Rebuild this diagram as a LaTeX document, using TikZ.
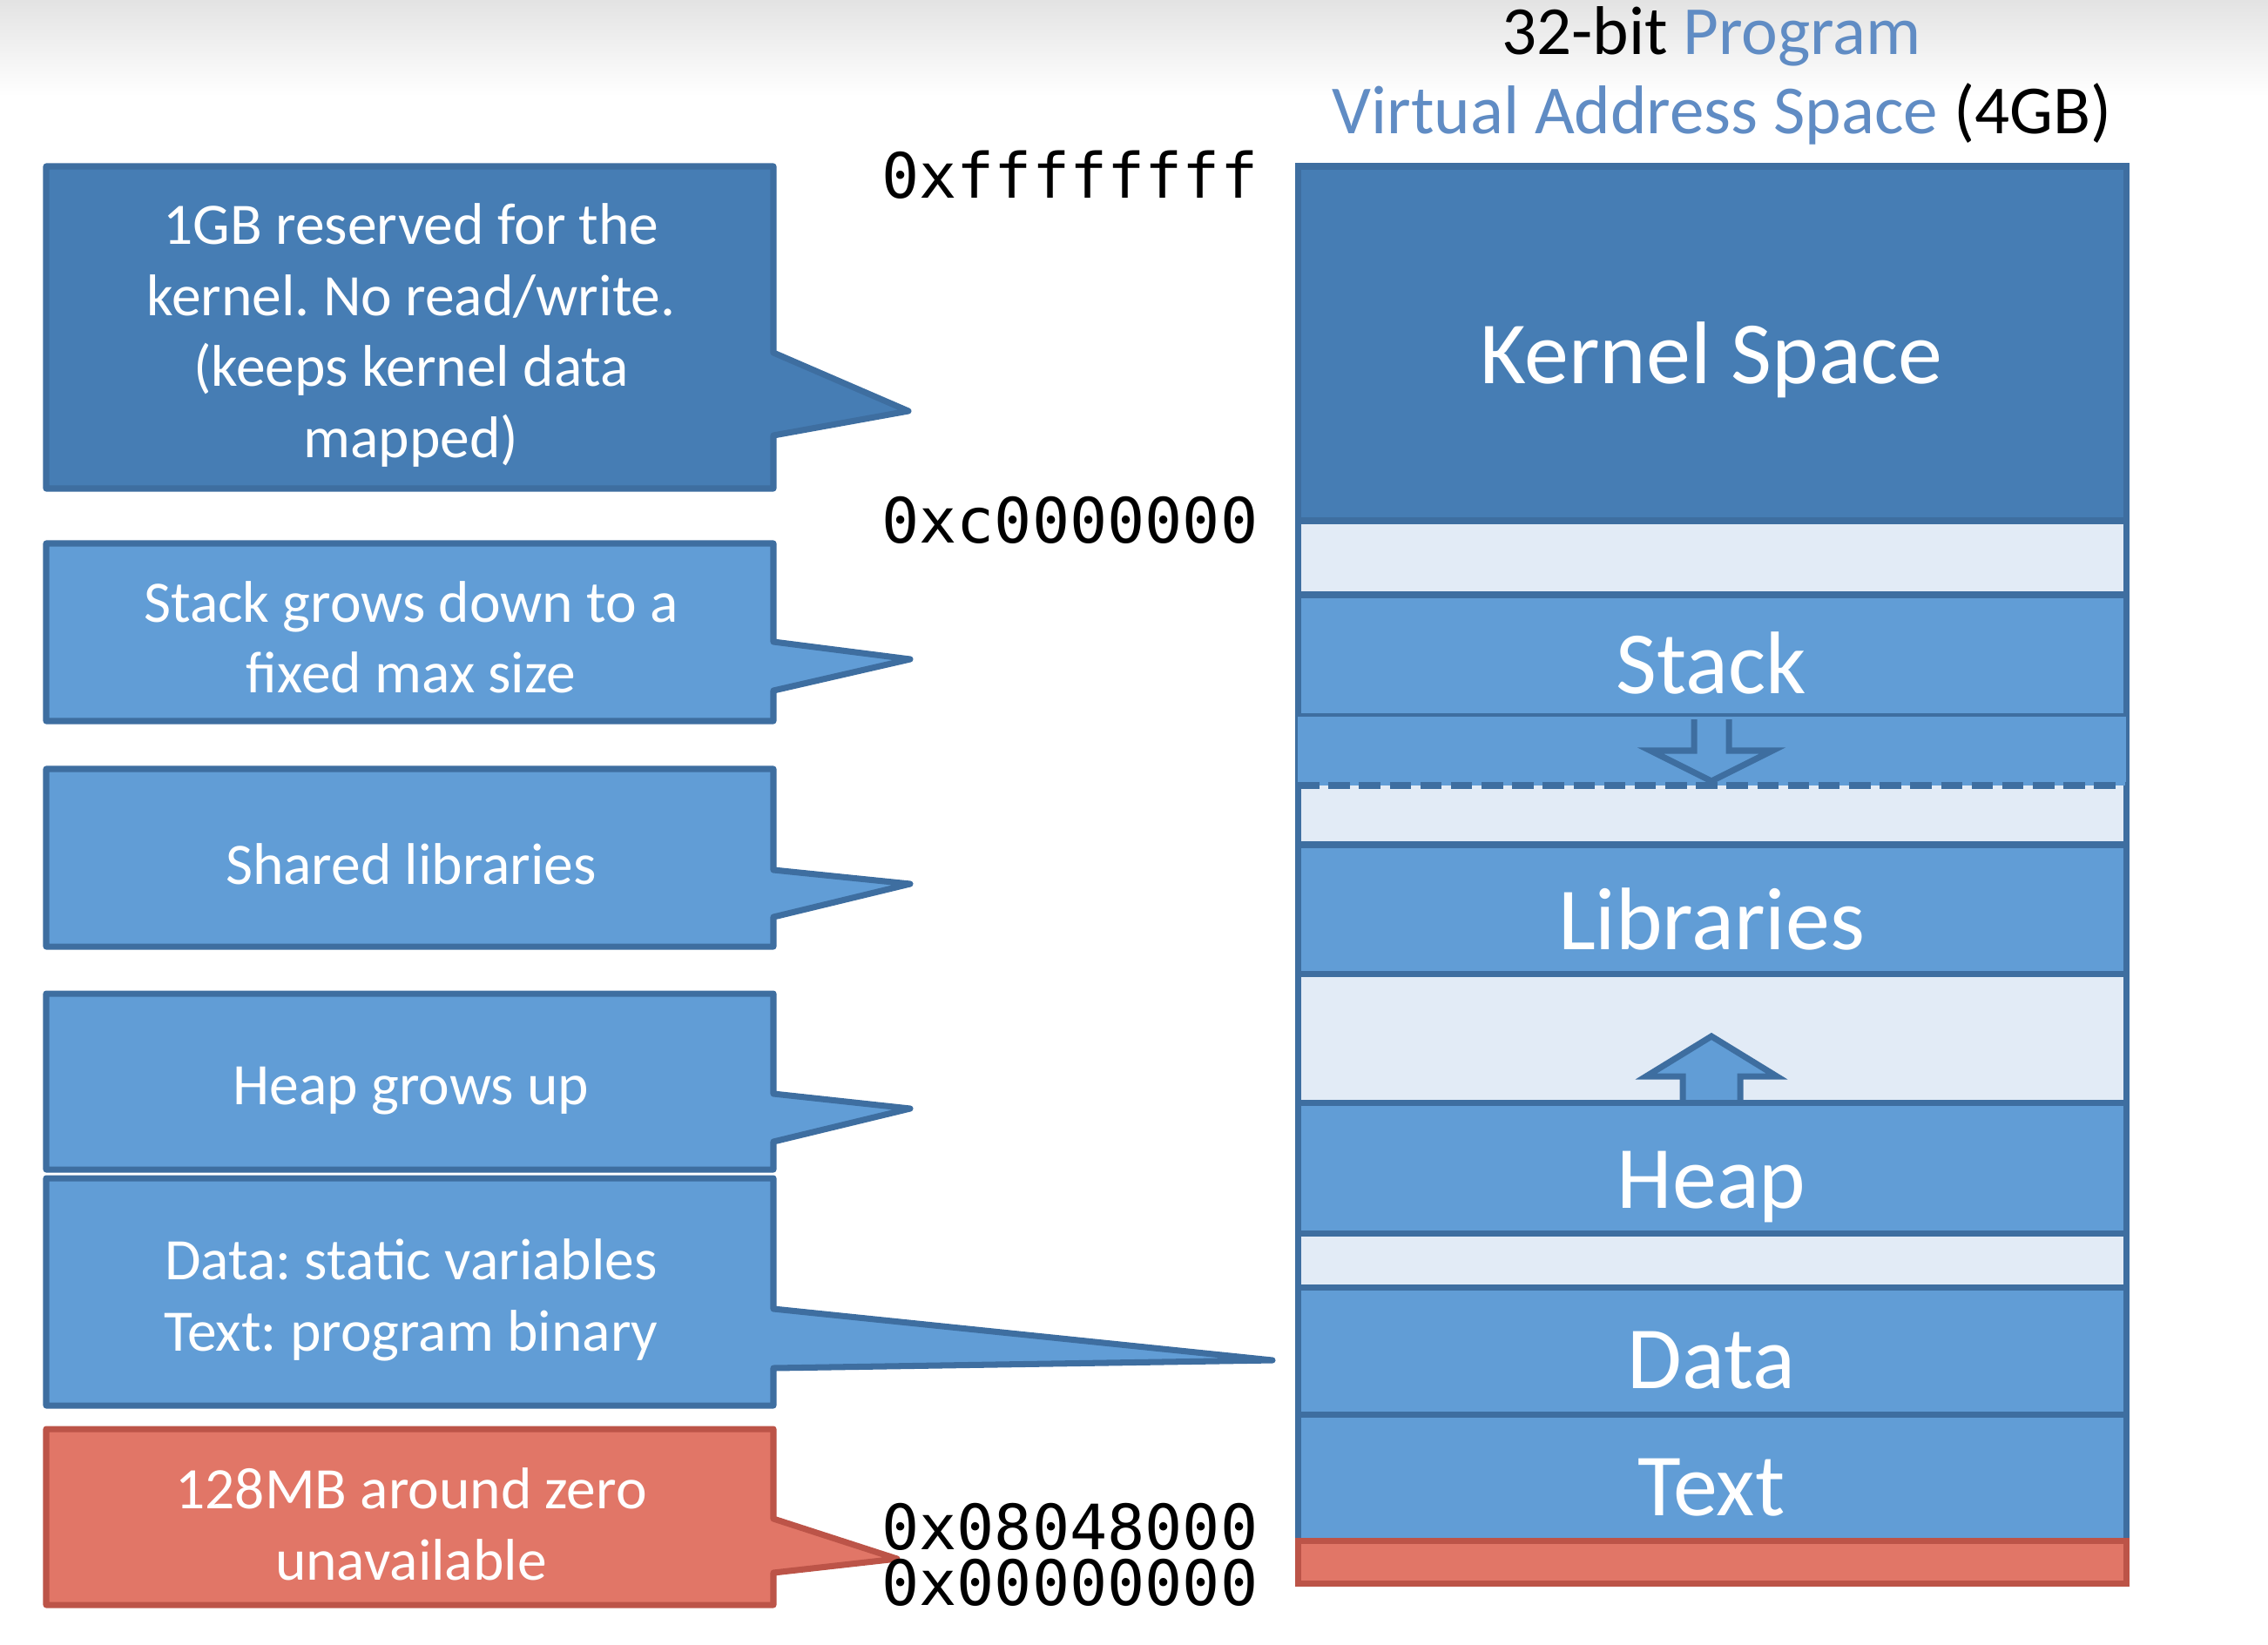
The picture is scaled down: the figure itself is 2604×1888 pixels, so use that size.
\documentclass[tikz,border=0pt]{standalone}
\usepackage{fontspec}
\setmainfont{Carlito}
\newfontfamily\monof{DejaVu Sans Mono}
\frenchspacing
\definecolor{kblue}{RGB}{70,125,180}
\definecolor{mblue}{RGB}{97,157,214}
\definecolor{bblue}{RGB}{62,110,160}
\definecolor{lblue}{RGB}{226,235,246}
\definecolor{rfill}{RGB}{225,118,103}
\definecolor{rline}{RGB}{188,84,72}
\definecolor{tblue}{RGB}{96,140,196}
\tikzset{
  blk/.style={fill=mblue,draw=bblue,line width=2pt},
  kblk/.style={fill=kblue,draw=bblue,line width=2pt},
  rblk/.style={fill=rfill,draw=rline,line width=2pt},
  gap/.style={fill=lblue},
  seglabel/.style={text=white,font=\fontsize{29}{34}\selectfont,anchor=base,inner sep=0pt},
  calltext/.style={text=white,font=\fontsize{19.2}{23.2}\selectfont,align=center,inner sep=0pt},
  addr/.style={font=\monof\fontsize{20.4}{24}\selectfont,anchor=base east,inner sep=0pt},
  ttl/.style={font=\fontsize{22.5}{27}\selectfont,inner sep=0pt},
  callbox/.style={fill=mblue,draw=bblue,line width=2pt,line join=round},
}
\begin{document}
\begin{tikzpicture}[x=0.01cm,y=-0.01cm]
\useasboundingbox (0,0) rectangle (2604,1888);
\fill[white] (0,0) rectangle (2604,1888);
\shade[top color=black!11,bottom color=white] (0,0) rectangle (2604,110);

% ---- memory column ----
\draw[gap,draw=bblue,line width=2pt] (1490,191) rectangle (2441,1818);
\draw[kblk] (1490,191) rectangle (2441,598);
\draw[blk] (1490,683) rectangle (2441,823);
\fill[mblue] (1490,823) rectangle (2441,902);
\draw[bblue,line width=2pt,dashed,dash pattern=on 7pt off 3pt] (1490,902) -- (2441,902);
% hollow down arrow
\draw[fill=mblue,draw=bblue,line width=2pt,line join=miter]
  (1945,826) -- (1945,862) -- (1895,862) -- (1965,897) -- (2035,862) -- (1985,862) -- (1985,826);
\draw[blk] (1490,970) rectangle (2441,1118);
% up arrow
\draw[fill=mblue,draw=bblue,line width=2pt,line join=miter]
  (1932,1268) -- (1932,1236) -- (1890,1236) -- (1965,1190) -- (2040,1236) -- (1998,1236) -- (1998,1268);
\draw[blk] (1490,1266) rectangle (2441,1416);
\draw[blk] (1490,1478) rectangle (2441,1624);
\draw[blk] (1490,1624) rectangle (2441,1769);
\draw[rblk] (1490,1769) rectangle (2441,1818);

\node[seglabel] (kern) at (1965,440) {Kernel Space};
\node[seglabel] (stack) at (1965,796) {Stack};
\node[seglabel] (libs) at (1965,1090) {Libraries};
\node[seglabel] (heap) at (1965,1387) {Heap};
\node[seglabel] (data) at (1965,1594) {Data};
\node[seglabel] (text) at (1965,1740) {Text};

% ---- callouts ----
\draw[callbox,fill=kblue] (53,191) -- (888,191) -- (888,405) -- (1043,472) -- (888,500) -- (888,561) -- (53,561) -- cycle;
\node[calltext] (ck) at (472,385) {1GB reserved for the\\kernel. No read/write.\\(keeps kernel data\\mapped)};

\draw[callbox] (53,624) -- (888,624) -- (888,737) -- (1045,757) -- (888,793) -- (888,828) -- (53,828) -- cycle;
\node[calltext] (cs) at (472,732) {Stack grows down to a\\fixed max size};

\draw[callbox] (53,883) -- (888,883) -- (888,999) -- (1045,1015) -- (888,1053) -- (888,1087) -- (53,1087) -- cycle;
\node[calltext] (cl) at (472,992) {Shared libraries};

\draw[callbox] (53,1141) -- (888,1141) -- (888,1256) -- (1045,1273) -- (888,1311) -- (888,1343) -- (53,1343) -- cycle;
\node[calltext] (ch) at (472,1253) {Heap grows up};

\draw[callbox] (53,1353) -- (888,1353) -- (888,1503) -- (1461,1562) -- (888,1571) -- (888,1614) -- (53,1614) -- cycle;
\node[calltext] (cd) at (472,1493) {Data: static variables\\Text: program binary};

\draw[callbox,fill=rfill,draw=rline] (53,1641) -- (888,1641) -- (888,1744) -- (1030,1790) -- (888,1806) -- (888,1843) -- (53,1843) -- cycle;
\node[calltext] (cr) at (472,1750) {128MB around zero\\unavailable};

% ---- addresses ----
\node[addr] (a1) at (1445,228) {0xffffffff};
\node[addr] (a2) at (1445,623) {0xc0000000};
\node[addr] (a3) at (1445,1779) {0x08048000};
\node[addr] (a4) at (1445,1843) {0x00000000};

% ---- title ----
\node[ttl,anchor=base] (t1) at (1965,63) {32-bit \textcolor{tblue}{Program}};
\node[ttl,anchor=base east] (t2) at (2425,153) {\textcolor{tblue}{Virtual Address Space} (4GB)};
\end{tikzpicture}
\end{document}
